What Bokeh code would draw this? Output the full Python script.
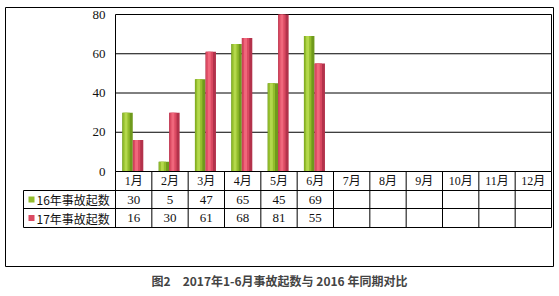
from bokeh.plotting import figure
from bokeh.models import ColumnDataSource, Title, Range1d
from bokeh.core.properties import value
from bokeh.embed import file_html
from bokeh.resources import INLINE

# ---------------- data ----------------
months = ["1月", "2月", "3月", "4月", "5月", "6月", "7月", "8月", "9月", "10月", "11月", "12月"]
series_names = ["16年事故起数", "17年事故起数"]
counts_2016 = [30, 5, 47, 65, 45, 69]
counts_2017 = [16, 30, 61, 68, 81, 55]
y_ticks = [0, 20, 40, 60, 80]
title_text = "图2\u30002017年1-6月事故起数与 2016 年同期对比"

# ---------------- layout (pixels) ----------------
W, H = 559, 296
frame_l, frame_t, frame_r, frame_b = 5, 7, 553, 266
plot_l, plot_t, plot_r, plot_b = 115, 14, 551, 171
ncol = len(months)
y_max = y_ticks[-1]
col_w = (plot_r - plot_l) / ncol
ppu = (plot_b - plot_t) / y_max


def dy(pix):
    return -(pix - plot_b) / ppu


def dx(pix):
    return (pix - plot_l) / col_w


x_start, x_end = dx(frame_l), dx(frame_r)
y_start, y_end = dy(frame_b), dy(frame_t)

CJK = value("Noto Sans CJK SC")
MIX = value("Liberation Serif, Noto Sans CJK SC")

p = figure(width=W, height=H, output_backend="svg", toolbar_location=None,
           x_range=Range1d(x_start, x_end), y_range=Range1d(y_start, y_end),
           x_axis_type=None, y_axis_type=None,
           min_border_left=frame_l, min_border_top=frame_t,
           min_border_right=W - frame_r, min_border_bottom=H - frame_b)
p.grid.visible = False
p.outline_line_color = "black"
p.outline_line_width = 1
p.background_fill_color = "white"
p.border_fill_color = "white"

# gridlines & plot border
p.segment(x0=[0] * len(y_ticks), x1=[ncol] * len(y_ticks), y0=y_ticks, y1=y_ticks,
          line_color="black", line_width=1)
p.segment(x0=[0, ncol], x1=[0, ncol], y0=[y_max, y_max], y1=[0, 0],
          line_color="black", line_width=1)

# y tick labels
p.text(x=[dx(105)] * len(y_ticks), y=y_ticks, text=[str(t) for t in y_ticks],
       text_align="right", text_baseline="middle", text_font=MIX,
       text_font_size="13px", text_color="#111111")

# bars with simulated cylinder shading
bw = 0.29
series = [
    (counts_2016, 0.33, ["#6f9a1c", "#93bd2c", "#b4d84c"]),
    (counts_2017, 0.62, ["#b3324b", "#db4a62", "#f0677c"]),
]
for vals, off, cols in series:
    xs = [i + off for i in range(len(vals))]
    tops = [min(v, y_max) for v in vals]
    src = ColumnDataSource(dict(x=xs, top=tops))
    p.vbar(x="x", top="top", bottom=0, width=bw, source=src,
           fill_color=cols[0], line_color=None)
    src2 = ColumnDataSource(dict(x=[x - bw * 0.12 for x in xs], top=tops))
    p.vbar(x="x", top="top", bottom=0, width=bw * 0.66, source=src2,
           fill_color=cols[1], line_color=None)
    src3 = ColumnDataSource(dict(x=[x - bw * 0.14 for x in xs], top=tops))
    p.vbar(x="x", top="top", bottom=0, width=bw * 0.28, source=src3,
           fill_color=cols[2], line_color=None)

# table grid
row_tops = [dy(171), dy(190), dy(208), dy(227)]
leg_l = dx(23)
p.segment(x0=[0, leg_l, leg_l, leg_l], x1=[ncol] * 4, y0=row_tops, y1=row_tops,
          line_color="black", line_width=1)
p.segment(x0=list(range(ncol + 1)), x1=list(range(ncol + 1)),
          y0=[row_tops[0]] * (ncol + 1), y1=[row_tops[3]] * (ncol + 1),
          line_color="black", line_width=1)
p.segment(x0=[leg_l], x1=[leg_l], y0=[row_tops[1]], y1=[row_tops[3]],
          line_color="black", line_width=1)

# month headers
p.text(x=[i + 0.5 for i in range(ncol)], y=[dy(180.5)] * ncol, text=months,
       text_align="center", text_baseline="middle", text_font=MIX,
       text_font_size="12px", text_color="#111111")

# table values
for r, vals in enumerate([counts_2016, counts_2017]):
    yc = dy(199 + r * 18.5)
    p.text(x=[i + 0.5 for i in range(len(vals))], y=[yc] * len(vals),
           text=[str(v) for v in vals], text_align="center", text_baseline="middle",
           text_font=MIX, text_font_size="13px", text_color="#111111")

# legend column
leg_colors = ["#93bd2c", "#db4a62"]
for r, (name, c) in enumerate(zip(series_names, leg_colors)):
    yc = dy(199 + r * 18.5)
    p.scatter(x=[dx(31)], y=[yc], marker="square", size=6, fill_color=c, line_color=None)
    p.text(x=[dx(36)], y=[yc], text=[name], text_align="left", text_baseline="middle",
           text_font=CJK, text_font_size="12px", text_color="#111111")

# caption
p.add_layout(Title(text=title_text, align="center", text_font="Noto Sans CJK SC",
                   text_font_size="12px", text_font_style="bold", standoff=6), "below")

open("out.html", "w").write(file_html(p, INLINE))
